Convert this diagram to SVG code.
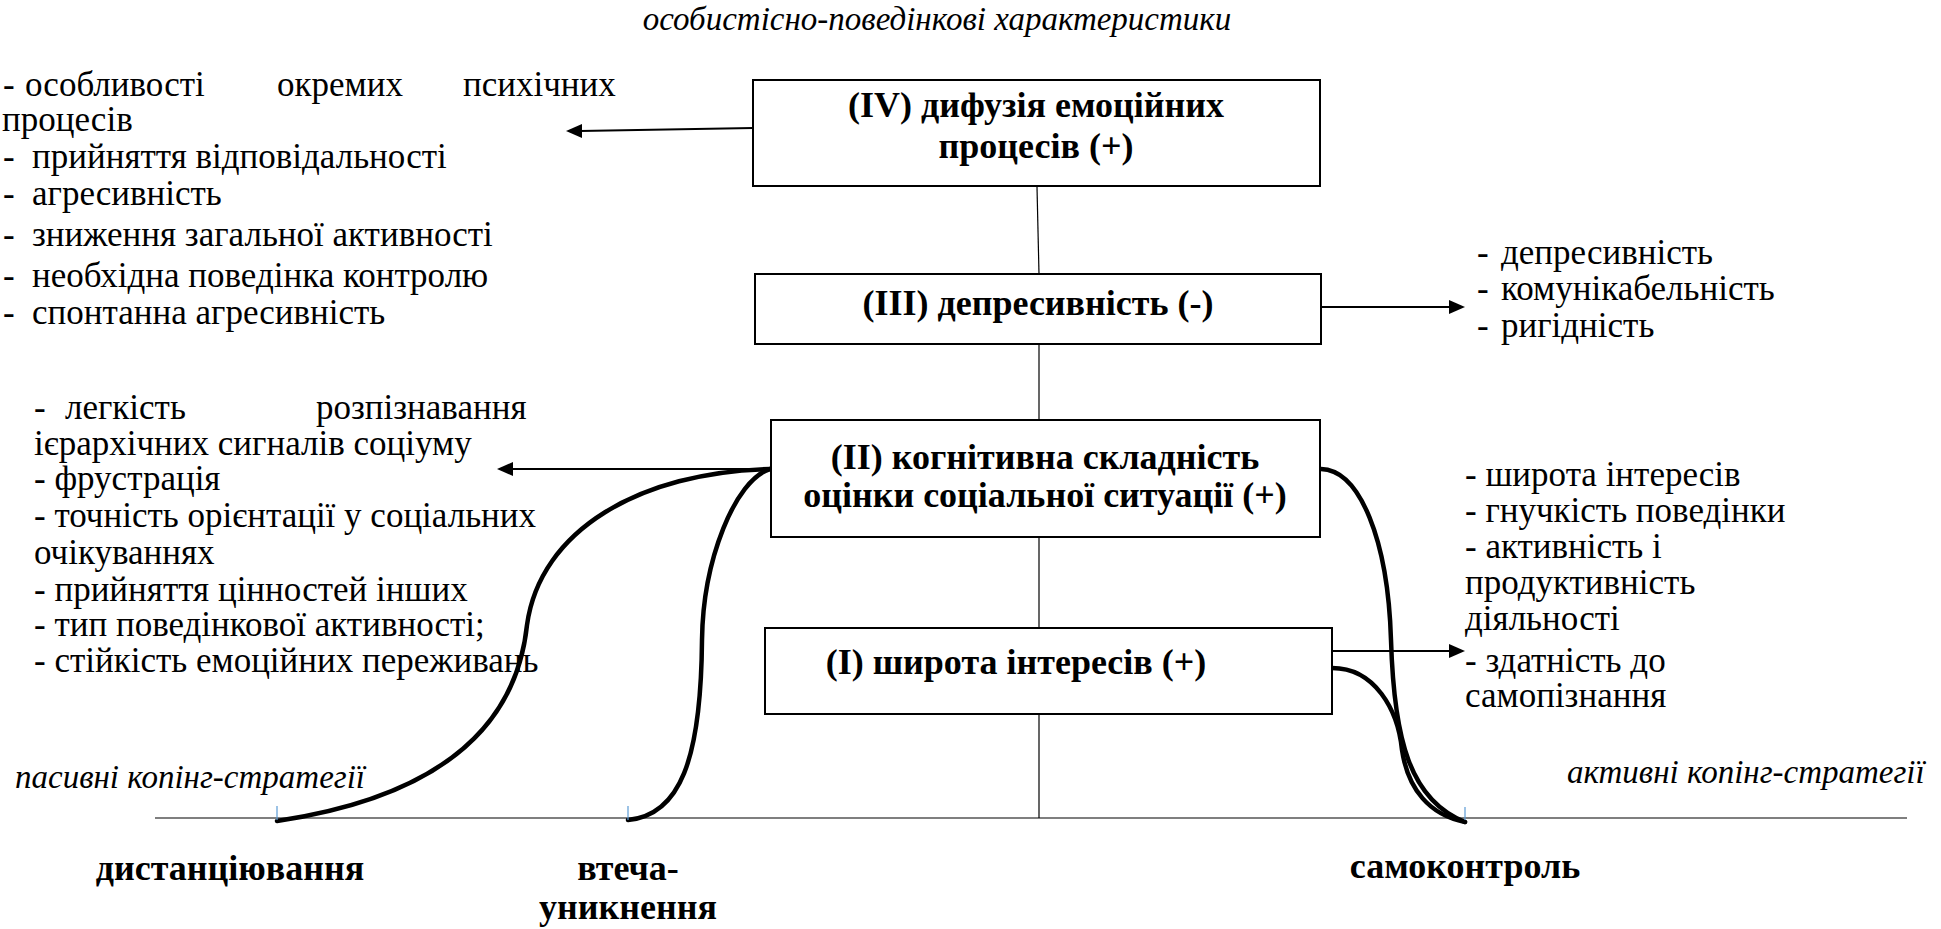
<svg xmlns="http://www.w3.org/2000/svg" width="1941" height="929" viewBox="0 0 1941 929">
<rect width="1941" height="929" fill="#fff"/>

<text x="937" y="30" text-anchor="middle" font-family="Liberation Serif" font-size="33" font-style="italic" style="font-family:'Liberation Serif',serif !important">особистісно-поведінкові характеристики</text>

<g id="connectors" fill="none" stroke="#000">
<g stroke-width="1.2">
<line x1="155" y1="818" x2="1907" y2="818"/>
<line x1="1037" y1="187" x2="1039" y2="274"/>
<line x1="1039" y1="344" x2="1039" y2="420"/>
<line x1="1039" y1="537" x2="1039" y2="628"/>
<line x1="1039" y1="714" x2="1039" y2="818"/>
</g>
<g stroke-width="2.2">
<line x1="753" y1="128" x2="580" y2="131"/>
<line x1="1321" y1="307" x2="1451" y2="307"/>
<line x1="771" y1="469" x2="511" y2="469"/>
<line x1="1332" y1="651" x2="1451" y2="651"/>
</g>
<g fill="#000" stroke="none">
<polygon points="566,131 582,124 582,138"/>
<polygon points="1465,307 1449,300 1449,314"/>
<polygon points="497,469 513,462 513,476"/>
<polygon points="1465,651 1449,644 1449,658"/>
</g>
<g stroke-width="4.5" stroke-linecap="round">
<path d="M770,469 C640,472 540,530 527,625 C517,720 450,795 277,821"/>
<path d="M770,469 C735,480 703,560 702,640 C701,760 680,815 628,820"/>
<path d="M1321,469 C1360,470 1388,540 1391,640 C1394,740 1410,800 1465,822"/>
<path d="M1332,668 C1375,668 1398,710 1402,750 C1408,790 1430,815 1465,822"/>
</g>
<g stroke="#5b9bd5" stroke-width="1.2">
<line x1="277" y1="806" x2="277" y2="820"/>
<line x1="628" y1="806" x2="628" y2="820"/>
<line x1="1465" y1="807" x2="1465" y2="820"/>
</g>
</g>

<g id="node-iv">
<rect x="753" y="80" width="567" height="106" fill="#fff" stroke="#000" stroke-width="2"/>
<text x="1036" y="117" text-anchor="middle" font-family="Liberation Serif" font-size="36" font-weight="bold" style="font-family:'Liberation Serif',serif !important">(IV) дифузія емоційних</text>
<text x="1036" y="158" text-anchor="middle" font-family="Liberation Serif" font-size="36" font-weight="bold" style="font-family:'Liberation Serif',serif !important">процесів (+)</text>
</g>
<g id="node-iii">
<rect x="755" y="274" width="566" height="70" fill="#fff" stroke="#000" stroke-width="2"/>
<text x="1038" y="315" text-anchor="middle" font-family="Liberation Serif" font-size="36" font-weight="bold" style="font-family:'Liberation Serif',serif !important">(III) депресивність (-)</text>
</g>
<g id="node-ii">
<rect x="771" y="420" width="549" height="117" fill="#fff" stroke="#000" stroke-width="2"/>
<text x="1045" y="469" text-anchor="middle" font-family="Liberation Serif" font-size="36" font-weight="bold" style="font-family:'Liberation Serif',serif !important">(II) когнітивна складність</text>
<text x="1045" y="507" text-anchor="middle" font-family="Liberation Serif" font-size="36" font-weight="bold" style="font-family:'Liberation Serif',serif !important">оцінки соціальної ситуації (+)</text>
</g>
<g id="node-i">
<rect x="765" y="628" width="567" height="86" fill="#fff" stroke="#000" stroke-width="2"/>
<text x="1016" y="674" text-anchor="middle" font-family="Liberation Serif" font-size="36" font-weight="bold" style="font-family:'Liberation Serif',serif !important">(I) широта інтересів (+)</text>
</g>

<g id="list-iv">
<text y="96" font-family="Liberation Serif" font-size="35" style="font-family:'Liberation Serif',serif !important"><tspan x="3">-</tspan><tspan x="25">особливості</tspan><tspan x="277">окремих</tspan><tspan x="463">психічних</tspan></text>
<text x="2" y="131" font-family="Liberation Serif" font-size="35" style="font-family:'Liberation Serif',serif !important">процесів</text>
<text y="168" font-family="Liberation Serif" font-size="35" style="font-family:'Liberation Serif',serif !important"><tspan x="3">-</tspan><tspan x="32">прийняття відповідальності</tspan></text>
<text y="205" font-family="Liberation Serif" font-size="35" style="font-family:'Liberation Serif',serif !important"><tspan x="3">-</tspan><tspan x="32">агресивність</tspan></text>
<text y="246" font-family="Liberation Serif" font-size="35" style="font-family:'Liberation Serif',serif !important"><tspan x="3">-</tspan><tspan x="32">зниження загальної активності</tspan></text>
<text y="287" font-family="Liberation Serif" font-size="35" style="font-family:'Liberation Serif',serif !important"><tspan x="3">-</tspan><tspan x="32">необхідна поведінка контролю</tspan></text>
<text y="324" font-family="Liberation Serif" font-size="35" style="font-family:'Liberation Serif',serif !important"><tspan x="3">-</tspan><tspan x="32">спонтанна агресивність</tspan></text>
</g>

<g id="list-iii">
<text y="264" font-family="Liberation Serif" font-size="35" style="font-family:'Liberation Serif',serif !important"><tspan x="1477">-</tspan><tspan x="1501">депресивність</tspan></text>
<text y="300" font-family="Liberation Serif" font-size="35" style="font-family:'Liberation Serif',serif !important"><tspan x="1477">-</tspan><tspan x="1501">комунікабельність</tspan></text>
<text y="337" font-family="Liberation Serif" font-size="35" style="font-family:'Liberation Serif',serif !important"><tspan x="1477">-</tspan><tspan x="1501">ригідність</tspan></text>
</g>

<g id="list-ii">
<text y="419" font-family="Liberation Serif" font-size="35" style="font-family:'Liberation Serif',serif !important"><tspan x="34">-</tspan><tspan x="65">легкість</tspan><tspan x="316">розпізнавання</tspan></text>
<text x="34" y="455" font-family="Liberation Serif" font-size="35" style="font-family:'Liberation Serif',serif !important">ієрархічних сигналів соціуму</text>
<text x="34" y="490" font-family="Liberation Serif" font-size="35" style="font-family:'Liberation Serif',serif !important">- фрустрація</text>
<text x="34" y="527" font-family="Liberation Serif" font-size="35" style="font-family:'Liberation Serif',serif !important">- точність орієнтації у соціальних</text>
<text x="34" y="564" font-family="Liberation Serif" font-size="35" style="font-family:'Liberation Serif',serif !important">очікуваннях</text>
<text x="34" y="601" font-family="Liberation Serif" font-size="35" style="font-family:'Liberation Serif',serif !important">- прийняття цінностей інших</text>
<text x="34" y="636" font-family="Liberation Serif" font-size="35" style="font-family:'Liberation Serif',serif !important">- тип поведінкової активності;</text>
<text x="34" y="672" font-family="Liberation Serif" font-size="35" style="font-family:'Liberation Serif',serif !important">- стійкість емоційних переживань</text>
</g>

<g id="list-i">
<text x="1465" y="486" font-family="Liberation Serif" font-size="35" style="font-family:'Liberation Serif',serif !important">- широта інтересів</text>
<text x="1465" y="522" font-family="Liberation Serif" font-size="35" style="font-family:'Liberation Serif',serif !important">- гнучкість поведінки</text>
<text x="1465" y="558" font-family="Liberation Serif" font-size="35" style="font-family:'Liberation Serif',serif !important">- активність і</text>
<text x="1465" y="594" font-family="Liberation Serif" font-size="35" style="font-family:'Liberation Serif',serif !important">продуктивність</text>
<text x="1465" y="630" font-family="Liberation Serif" font-size="35" style="font-family:'Liberation Serif',serif !important">діяльності</text>
<text x="1465" y="672" font-family="Liberation Serif" font-size="35" style="font-family:'Liberation Serif',serif !important">- здатність до</text>
<text x="1465" y="707" font-family="Liberation Serif" font-size="35" style="font-family:'Liberation Serif',serif !important">самопізнання</text>
</g>

<g id="axis-labels">
<text x="15" y="788" font-family="Liberation Serif" font-size="33" font-style="italic" style="font-family:'Liberation Serif',serif !important">пасивні копінг-стратегії</text>
<text x="1567" y="783" font-family="Liberation Serif" font-size="33" font-style="italic" style="font-family:'Liberation Serif',serif !important">активні копінг-стратегії</text>
<text x="230" y="880" text-anchor="middle" font-family="Liberation Serif" font-size="36" font-weight="bold" style="font-family:'Liberation Serif',serif !important">дистанціювання</text>
<text x="628" y="880" text-anchor="middle" font-family="Liberation Serif" font-size="36" font-weight="bold" style="font-family:'Liberation Serif',serif !important">втеча-</text>
<text x="628" y="919" text-anchor="middle" font-family="Liberation Serif" font-size="36" font-weight="bold" style="font-family:'Liberation Serif',serif !important">уникнення</text>
<text x="1465" y="878" text-anchor="middle" font-family="Liberation Serif" font-size="36" font-weight="bold" style="font-family:'Liberation Serif',serif !important">самоконтроль</text>
</g>
</svg>
